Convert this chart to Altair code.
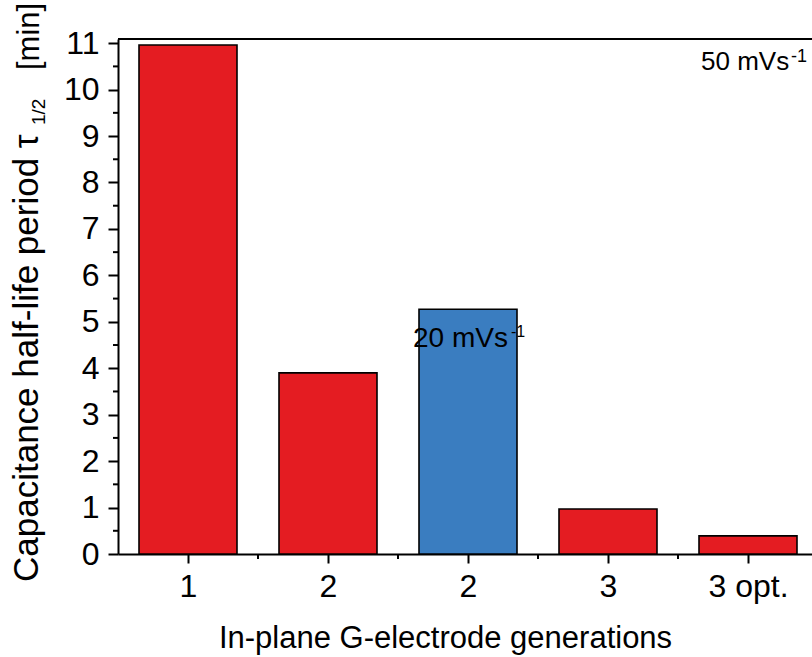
import altair as alt
import pandas as pd

# ---- data ----
generations = ["1", "2", "2", "3", "3 opt."]
positions = [1, 2, 3, 4, 5]
half_life_min = [10.96, 3.90, 5.27, 0.97, 0.39]
scan_rate = ["50 mVs-1", "50 mVs-1", "20 mVs-1", "50 mVs-1", "50 mVs-1"]
y_ticks = list(range(0, 12))
y_minor = [i + 0.5 for i in range(11)]
x_minor = [1.5, 2.5, 3.5, 4.5]

W, H = 694, 515
FONT = "Liberation Sans"
RED = "#e41c22"
BLUE = "#3a7dc0"

df = pd.DataFrame({"pos": positions, "gen": generations,
                   "value": half_life_min, "rate": scan_rate})

xscale = alt.Scale(domain=[0.5, 0.5 + W / 140], nice=False, zero=False)
yscale = alt.Scale(domain=[0, 11.09], nice=False, zero=True)

label_arr = "[''," + ",".join(f"'{g}'" for g in generations) + "]"

bars = alt.Chart(df).transform_calculate(
    x1="datum.pos - 0.35", x2="datum.pos + 0.35", base="0"
).mark_bar(stroke="black", strokeWidth=1.6).encode(
    x=alt.X("x1:Q", scale=xscale,
            axis=alt.Axis(values=positions, labelExpr=label_arr + "[datum.value]",
                          title="In-plane G-electrode generations",
                          tickSize=9, labelPadding=8, labelFontSize=32,
                          titleFontSize=31, titleX=327, titleY=93,
                          titleBaseline="alphabetic", titleAnchor="start",
                          titleAlign="center")),
    x2="x2:Q",
    y=alt.Y("value:Q", scale=yscale,
            axis=alt.Axis(values=y_ticks, title=None, tickSize=10,
                          labelPadding=9, labelFontSize=32)),
    y2="base:Q",
    color=alt.Color("rate:N", scale=alt.Scale(domain=["50 mVs-1", "20 mVs-1"],
                                              range=[RED, BLUE]), legend=None),
)

ymin = alt.Chart(pd.DataFrame({"v": y_minor})).mark_rule(
    color="black", strokeWidth=2).encode(
    y=alt.Y("v:Q", scale=yscale), x=alt.value(-5), x2=alt.value(0))

xmin = alt.Chart(pd.DataFrame({"v": x_minor})).mark_rule(
    color="black", strokeWidth=2).encode(
    x=alt.X("v:Q", scale=xscale), y=alt.value(H), y2=alt.value(H + 5))

top = alt.Chart(pd.DataFrame({"a": [0]})).mark_rule(
    color="black", strokeWidth=2).encode(
    x=alt.value(0), x2=alt.value(W), y=alt.value(0))


def txt(t, x, y, size, angle=0, align="left"):
    kw = dict(font=FONT, fontSize=size, align=align, baseline="alphabetic",
              color="black")
    if angle:
        kw["angle"] = angle
    return alt.Chart(pd.DataFrame({"t": [t]})).mark_text(**kw).encode(
        text="t:N", x=alt.value(x), y=alt.value(y))


ytitle = [
    txt("Capacitance half-life period τ", -80, 543, 35, angle=270),
    txt("1/2", -73, 86, 19, angle=270),
    txt("[min]", -79, 31, 31, angle=270),
]
annots = [
    txt("50 mVs", 583, 31, 26),
    txt("-1", 673, 23, 18),
    txt("20 mVs", 295, 308, 28),
    txt("-1", 393, 298, 16),
]

chart = alt.layer(bars, ymin, xmin, top, *ytitle, *annots).properties(
    width=W, height=H,
    autosize=alt.AutoSizeParams(type="none"),
    padding={"left": 118, "top": 39, "right": 0, "bottom": 103},
).configure_view(stroke=None).configure_axis(
    grid=False, domainColor="black", domainWidth=2, tickColor="black",
    tickWidth=2, labelColor="black", titleColor="black", labelFont=FONT,
    titleFont=FONT, titleFontWeight="normal",
)

chart.save("out.html", embed_options={"renderer": "svg", "actions": False})
